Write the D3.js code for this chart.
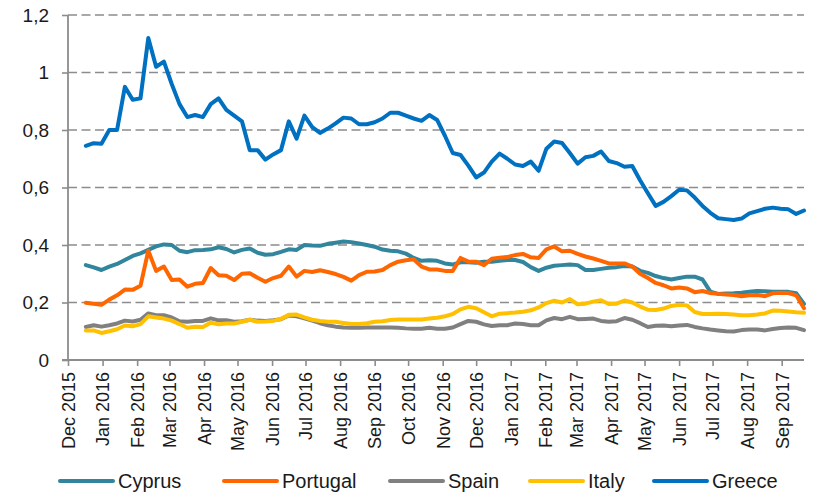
<!DOCTYPE html>
<html>
<head>
<meta charset="utf-8">
<script src="https://cdn.jsdelivr.net/npm/d3@7"></script>
<style>
  body { margin: 0; background: #fff; }
  text { font-family: Arial, "Liberation Sans", sans-serif; fill: #1a1a1a; }
</style>
</head>
<body>
<div id="container"></div>
<script>

// weekly observations, first one on 17 Dec 2015
var firstDay = new Date(2015, 11, 17);

var cyprus = [0.33,0.322,0.313,0.325,0.334,0.348,0.362,0.371,0.383,0.395,0.402,0.40,0.38,0.375,0.382,0.383,0.385,0.392,0.386,0.374,
    0.383,0.388,0.373,0.366,0.368,0.376,0.385,0.383,0.40,0.398,0.397,0.404,0.408,0.412,0.41,0.405,0.40,0.394,0.384,0.38,
    0.378,0.37,0.355,0.345,0.347,0.345,0.336,0.332,0.34,0.34,0.338,0.342,0.342,0.345,0.348,0.348,0.341,0.323,0.31,0.321,
    0.328,0.33,0.332,0.33,0.313,0.313,0.317,0.321,0.323,0.327,0.325,0.31,0.303,0.292,0.285,0.28,0.285,0.29,0.29,0.28,
    0.238,0.23,0.231,0.232,0.234,0.237,0.24,0.239,0.237,0.237,0.237,0.232,0.195];

var portugal = [0.199,0.196,0.192,0.21,0.225,0.245,0.244,0.258,0.38,0.31,0.325,0.278,0.28,0.255,0.265,0.268,0.32,0.295,0.293,0.278,
    0.30,0.302,0.286,0.272,0.285,0.293,0.325,0.29,0.31,0.306,0.312,0.306,0.299,0.289,0.276,0.295,0.307,0.308,0.313,0.33,
    0.342,0.347,0.35,0.325,0.315,0.315,0.31,0.31,0.355,0.342,0.342,0.33,0.352,0.356,0.358,0.365,0.369,0.357,0.355,0.385,
    0.395,0.378,0.38,0.369,0.36,0.353,0.345,0.336,0.336,0.336,0.325,0.30,0.285,0.268,0.26,0.249,0.252,0.249,0.236,0.24,
    0.233,0.23,0.228,0.226,0.222,0.225,0.226,0.222,0.232,0.234,0.233,0.225,0.18];

var spain = [0.115,0.121,0.116,0.121,0.127,0.137,0.134,0.14,0.162,0.156,0.156,0.148,0.135,0.133,0.136,0.136,0.145,0.138,0.138,0.133,
    0.135,0.14,0.137,0.136,0.138,0.142,0.155,0.152,0.145,0.137,0.128,0.121,0.116,0.113,0.112,0.112,0.113,0.113,0.113,0.113,
    0.112,0.11,0.109,0.109,0.112,0.109,0.109,0.113,0.125,0.136,0.133,0.124,0.118,0.121,0.121,0.127,0.125,0.121,0.121,0.138,
    0.146,0.142,0.15,0.142,0.143,0.144,0.136,0.133,0.135,0.146,0.14,0.128,0.115,0.119,0.12,0.117,0.12,0.122,0.115,0.11,
    0.106,0.103,0.10,0.099,0.104,0.106,0.106,0.103,0.108,0.111,0.113,0.112,0.104];

var italy = [0.103,0.103,0.094,0.10,0.107,0.12,0.117,0.125,0.152,0.148,0.144,0.137,0.125,0.112,0.116,0.115,0.13,0.124,0.127,0.127,
    0.133,0.14,0.133,0.134,0.136,0.143,0.157,0.158,0.148,0.14,0.136,0.133,0.133,0.129,0.125,0.125,0.128,0.133,0.135,0.139,
    0.141,0.141,0.141,0.141,0.144,0.147,0.152,0.16,0.176,0.185,0.18,0.166,0.152,0.161,0.163,0.165,0.168,0.173,0.183,0.198,
    0.206,0.20,0.212,0.194,0.196,0.203,0.208,0.195,0.196,0.207,0.20,0.186,0.175,0.174,0.179,0.188,0.192,0.19,0.167,0.16,
    0.16,0.161,0.16,0.158,0.156,0.156,0.158,0.162,0.172,0.171,0.169,0.166,0.164];

var greece = [0.745,0.754,0.752,0.80,0.80,0.95,0.905,0.91,1.12,1.02,1.038,0.96,0.89,0.845,0.852,0.845,0.89,0.91,0.87,0.85,
    0.83,0.73,0.73,0.697,0.715,0.73,0.83,0.77,0.85,0.81,0.79,0.805,0.823,0.843,0.84,0.82,0.82,0.827,0.84,0.86,
    0.86,0.85,0.84,0.832,0.852,0.835,0.78,0.72,0.713,0.676,0.635,0.652,0.69,0.718,0.70,0.68,0.675,0.69,0.658,0.735,
    0.76,0.755,0.72,0.683,0.705,0.71,0.725,0.692,0.685,0.672,0.675,0.625,0.58,0.536,0.55,0.57,0.592,0.59,0.565,0.536,
    0.512,0.493,0.49,0.487,0.492,0.51,0.518,0.526,0.53,0.526,0.524,0.508,0.52];

var seriesNames = ["Cyprus", "Portugal", "Spain", "Italy", "Greece"];
var seriesValues = [cyprus, portugal, spain, italy, greece];
var colors = ["#31859C", "#FF6600", "#808080", "#FFC000", "#0070C0"];

var yTicks = [0, 0.2, 0.4, 0.6, 0.8, 1, 1.2];
var yLabels = ["0", "0,2", "0,4", "0,6", "0,8", "1", "1,2"];
var monthLabels = ["Dec 2015", "Jan 2016", "Feb 2016", "Mar 2016", "Apr 2016", "May 2016", "Jun 2016",
    "Jul 2016", "Aug 2016", "Sep 2016", "Oct 2016", "Nov 2016", "Dec 2016", "Jan 2017", "Feb 2017",
    "Mar 2017", "Apr 2017", "May 2017", "Jun 2017", "Jul 2017", "Aug 2017", "Sep 2017"];

var dates = cyprus.map((d, i) => d3.timeDay.offset(firstDay, 7 * i));
var monthTicks = monthLabels.map((d, i) => new Date(2015, 11 + i, 1));

var width = 817;
var height = 494;
var margin = {left: 68, top: 15, right: 13, bottom: 134};

const svg = d3.select("#container")
              .append("svg")
              .attr("width", width)
              .attr("height", height);

// scales
var xScale = d3.scaleTime()
               .domain([new Date(2015, 11, 1), new Date(2017, 8, 21)])
               .range([margin.left, width - margin.right]);

var yScale = d3.scaleLinear()
               .domain([0, 1.2])
               .range([height - margin.bottom, margin.top]);

// gridlines
svg.append("g")
   .selectAll("line")
   .data(yTicks.slice(1))
   .enter()
   .append("line")
   .attr("x1", margin.left)
   .attr("x2", width - margin.right)
   .attr("y1", d => yScale(d))
   .attr("y2", d => yScale(d))
   .attr("stroke", "#8c8c8c")
   .attr("stroke-width", 1.6)
   .attr("stroke-dasharray", "9,4.5");

// y axis
var yAxis = d3.axisLeft(yScale)
    .tickValues(yTicks)
    .tickSize(6)
    .tickPadding(13)
    .tickFormat((d, i) => yLabels[i]);

var gy = svg.append("g")
   .attr("transform", "translate(" + margin.left + ",0)")
   .call(yAxis);
gy.select(".domain").remove();
gy.selectAll("line").attr("stroke", "#8c8c8c").attr("stroke-width", 1.6);
gy.selectAll("text").style("font-size", "19px").attr("fill", "#1a1a1a");

svg.append("line")
   .attr("x1", margin.left).attr("x2", margin.left)
   .attr("y1", margin.top).attr("y2", yScale(0))
   .attr("stroke", "#8c8c8c").attr("stroke-width", 1.8);

// x axis
var xAxis = d3.axisBottom(xScale)
    .tickValues(monthTicks)
    .tickSize(6)
    .tickSizeOuter(0)
    .tickFormat((d, i) => monthLabels[i]);

var gx = svg.append("g")
   .attr("transform", "translate(0," + yScale(0) + ")")
   .call(xAxis);
gx.select(".domain").attr("stroke", "#8c8c8c").attr("stroke-width", 1.8)
   .attr("d", "M" + (margin.left - 6) + ",0H" + (width - margin.right));
gx.selectAll("line").attr("stroke", "#8c8c8c").attr("stroke-width", 1.6);
gx.selectAll("text")
   .style("font-size", "18px")
   .attr("fill", "#1a1a1a")
   .attr("transform", "rotate(-90)")
   .attr("text-anchor", "end")
   .attr("x", -12)
   .attr("y", 0)
   .attr("dy", "0.35em");

// lines
var line = d3.line()
    .x((d, i) => xScale(dates[i]))
    .y(d => yScale(d));

svg.append("g")
   .selectAll("path")
   .data(seriesValues)
   .enter()
   .append("path")
   .attr("d", d => line(d))
   .attr("fill", "none")
   .attr("stroke", (d, i) => colors[i])
   .attr("stroke-width", 4)
   .attr("stroke-linejoin", "round")
   .attr("stroke-linecap", "round");

// legend
var legendX = [60, 224, 390, 530, 654];
var legend = svg.append("g")
   .selectAll("g")
   .data(seriesNames)
   .enter()
   .append("g")
   .attr("transform", (d, i) => "translate(" + legendX[i] + ",481)");

legend.append("line")
   .attr("x1", 0).attr("x2", 53)
   .attr("stroke", (d, i) => colors[i])
   .attr("stroke-width", 4)
   .attr("stroke-linecap", "round");

legend.append("text")
   .attr("x", 58)
   .attr("dy", "0.36em")
   .style("font-size", "20px")
   .text(d => d);

</script>
</body>
</html>
